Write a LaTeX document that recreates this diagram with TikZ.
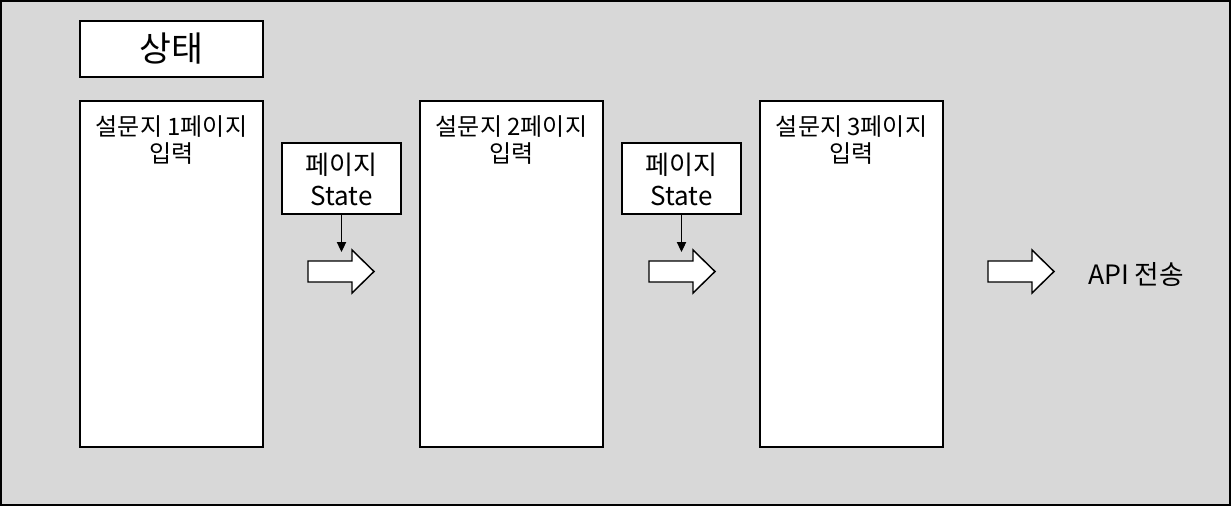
\documentclass[tikz,border=0pt]{standalone}
\usepackage{fontspec}
\setmainfont{Noto Sans CJK KR}
\usetikzlibrary{arrows.meta}
\definecolor{bggray}{RGB}{216,216,216}
\tikzset{
  titlebox/.style={draw=black, fill=white, line width=2.2pt, minimum width=137.25pt, minimum height=42pt, inner sep=0pt, font=\fontsize{26pt}{30pt}\selectfont},
  pagebox/.style={draw=black, fill=white, line width=1.4pt, minimum width=137.25pt, minimum height=259.5pt, inner sep=0pt},
  pagetext/.style={align=center, inner sep=0pt, anchor=base, font=\fontsize{18pt}{20.25pt}\selectfont},
  statebox/.style={draw=black, fill=white, line width=2pt, minimum width=89.25pt, minimum height=53.25pt, inner sep=0pt},
  statetext/.style={align=center, inner sep=0pt, anchor=base, font=\fontsize{19.5pt}{23.25pt}\selectfont},
  pointer/.style={draw=black, line width=0.8pt, -{Triangle[length=7.5pt,width=7pt]}},
  arrowline/.style={draw=black, line width=1.1pt, fill=white},
  blockarrow/.pic={\path[arrowline] (0,-10.5) -- (44,-10.5) -- (44,-21.5) -- (66,0) -- (44,21.5) -- (44,10.5) -- (0,10.5) -- cycle;}
}
\begin{document}
\begin{tikzpicture}[x=0.75pt,y=-0.75pt]
\useasboundingbox (0,0) rectangle (1231,506);
\fill[bggray] (0,0) rectangle (1231,506);
\draw[line width=1.5pt] (1,1) rectangle (1230,505);

\node[titlebox] (title) at (171.5,49) {상태};

\node[pagebox] (p1) at (171.5,274) {};
\node[pagetext] (t1) at (171.5,162) {설문지 1페이지\\입력};
\node[pagebox] (p2) at (511.5,274) {};
\node[pagetext] (t2) at (511.5,162) {설문지 2페이지\\입력};
\node[pagebox] (p3) at (851.5,274) {};
\node[pagetext] (t3) at (851.5,162) {설문지 3페이지\\입력};

\node[statebox] (s1) at (341.5,178.5) {};
\node[statetext] (st1) at (341.5,205) {페이지\\State};
\node[statebox] (s2) at (681.5,178.5) {};
\node[statetext] (st2) at (681.5,205) {페이지\\State};

\pic at (308,271.5) {blockarrow};
\pic at (649,271.5) {blockarrow};
\pic at (988,271.5) {blockarrow};

\coordinate (e1) at (341.5,252);
\coordinate (e2) at (681.5,252);
\draw[pointer] (s1.south) -- (e1);
\draw[pointer] (s2.south) -- (e2);

\node[inner sep=0pt, font=\fontsize{20pt}{24pt}\selectfont] (api) at (1136,274) {API 전송};
\end{tikzpicture}
\end{document}
